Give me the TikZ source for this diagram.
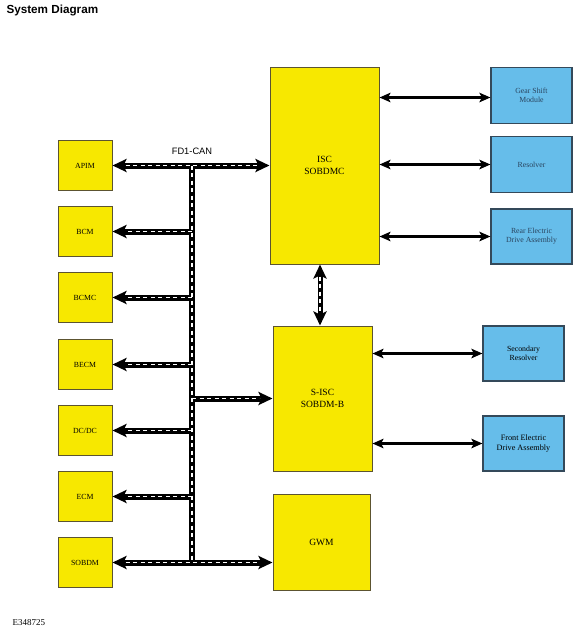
\documentclass[tikz,border=0pt]{standalone}
\usepackage{fontspec}
\setmainfont{Liberation Serif}
\newfontfamily\arial{Liberation Sans}
\usetikzlibrary{arrows.meta}
\definecolor{ybox}{HTML}{F7E800}
\definecolor{yedge}{HTML}{5C5430}
\definecolor{bbox}{HTML}{66BDEA}
\definecolor{bedge}{HTML}{34495A}
\definecolor{btext}{HTML}{2A4560}
\begin{document}
\begin{tikzpicture}[x=1pt,y=-1pt,
 ecu/.style={draw=yedge, fill=ybox, line width=1pt, inner sep=0pt, align=center, font=\fontsize{7.8}{9}\selectfont},
 sub/.style={draw=bedge, fill=bbox, line width=1.2pt, inner sep=0pt, align=center, text=btext, font=\fontsize{7.8}{9.2}\selectfont},
 busblk/.style={line width=6pt, black, >={Stealth[length=14pt,width=13pt,inset=3pt]}},
 buswht/.style={line width=1.6pt, white, dash pattern=on 4pt off 3.5pt},
 link/.style={line width=2.4pt, black, >={Stealth[length=11pt,width=9.5pt,inset=2.5pt]}, <->}
]
\path[use as bounding box] (0,0) rectangle (574,638);

\node[font=\arial\bfseries\fontsize{11.7}{14}\selectfont, anchor=west] (title) at (3,10) {System Diagram};
\node[font=\fontsize{9}{11}\selectfont, anchor=west] (fig) at (9,623) {E348725};

% left modules
\node[ecu, minimum width=54pt, minimum height=50pt] (APIM) at (85,165.5) {APIM};
\node[ecu, minimum width=54pt, minimum height=50pt] (BCM) at (85,231.5) {BCM};
\node[ecu, minimum width=54pt, minimum height=50pt] (BCMC) at (85,297.5) {BCMC};
\node[ecu, minimum width=54pt, minimum height=50pt] (BECM) at (85,364.5) {BECM};
\node[ecu, minimum width=54pt, minimum height=50pt] (DCDC) at (85,430.5) {DC/DC};
\node[ecu, minimum width=54pt, minimum height=50pt] (ECM) at (85,496.5) {ECM};
\node[ecu, minimum width=54pt, minimum height=50pt] (SOBDM) at (85,562.5) {SOBDM};

% central modules
\node[ecu, minimum width=109pt, minimum height=197pt, font=\fontsize{9.5}{11.5}\selectfont] (ISC) at (324.5,165.5) {ISC\\SOBDMC};
\node[ecu, minimum width=99pt, minimum height=145pt, font=\fontsize{9.5}{11.5}\selectfont] (SISC) at (322.5,398.5) {S-ISC\\SOBDM-B};
\node[ecu, minimum width=97pt, minimum height=96pt, font=\fontsize{9.5}{11.5}\selectfont] (GWM) at (321.5,542) {GWM};

% right modules
\node[sub, minimum width=81pt, minimum height=56pt] (GS) at (531.5,95.5) {Gear Shift\\Module};
\node[sub, minimum width=81pt, minimum height=56pt] (RES) at (531.5,164.5) {Resolver};
\node[sub, minimum width=81pt, minimum height=55pt] (REAR) at (531.5,236.5) {Rear Electric\\Drive Assembly};
\node[sub, minimum width=81pt, minimum height=55pt, text=black] (SEC) at (523.5,353.5) {Secondary\\Resolver};
\node[sub, minimum width=81pt, minimum height=55pt, text=black, font=\fontsize{8.2}{9.8}\selectfont] (FRONT) at (523.5,443.5) {Front Electric\\Drive Assembly};

\node[font=\arial\fontsize{9.3}{11}\selectfont] (can) at (192,151) {FD1-CAN};

\coordinate (bT) at (192,165.5);
\coordinate (bB) at (192,562.5);
\coordinate (vA) at ([xshift=-4.5pt]ISC.south);
\coordinate (gsA) at ([yshift=-2pt]GS.west);

% bus: black layer
\draw[busblk,<->] (APIM.east) -- (APIM.east -| ISC.west);
\draw[busblk] (bT) -- (bB);
\foreach \m in {BCM,BCMC,BECM,DCDC,ECM}{
  \draw[busblk,->] (\m.east -| bT) -- (\m.east);
}
\draw[busblk,->] (SISC.west -| bT) -- (SISC.west);
\draw[busblk,<->] (SOBDM.east) -- (SOBDM.east -| GWM.west);
\draw[busblk,<->,line width=5pt] (vA) -- (vA |- SISC.north);

% bus: white dashes
\draw[buswht, shorten <=13pt, shorten >=13pt] (APIM.east) -- (APIM.east -| ISC.west);
\draw[buswht] (bT) -- (bB);
\foreach \m in {BCM,BCMC,BECM,DCDC,ECM}{
  \draw[buswht, shorten >=13pt] (\m.east -| bT) -- (\m.east);
}
\draw[buswht, shorten >=13pt] (SISC.west -| bT) -- (SISC.west);
\draw[buswht, shorten <=13pt, shorten >=13pt] (SOBDM.east) -- (SOBDM.east -| GWM.west);
\draw[buswht, line width=1.5pt, shorten <=12pt, shorten >=12pt] (vA) -- (vA |- SISC.north);

% point-to-point links
\draw[link] (ISC.east |- gsA) -- (gsA);
\draw[link] (ISC.east |- RES) -- (RES.west);
\draw[link] (ISC.east |- REAR) -- (REAR.west);
\draw[link] (SISC.east |- SEC) -- (SEC.west);
\draw[link] (SISC.east |- FRONT) -- (FRONT.west);
\end{tikzpicture}
\end{document}
